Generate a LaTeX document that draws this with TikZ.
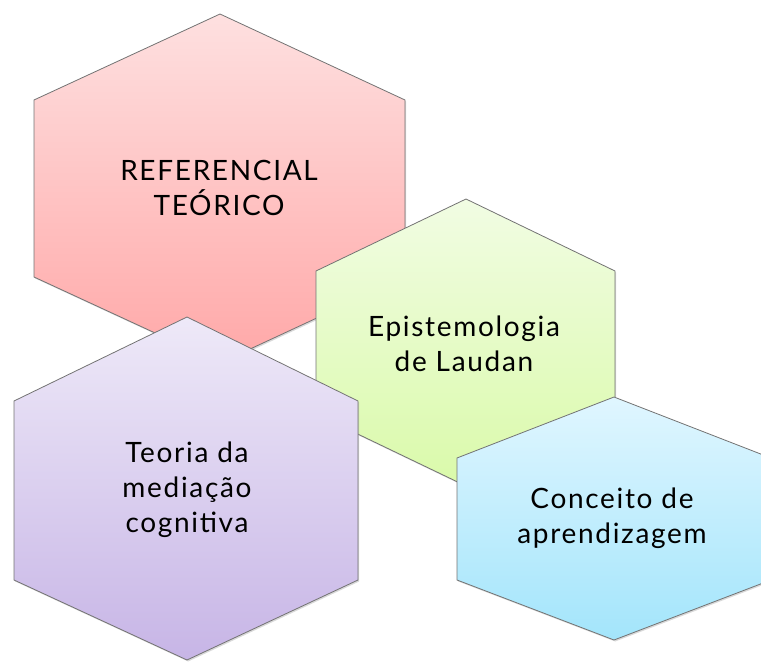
\documentclass[tikz,border=0pt]{standalone}
\usepackage{fontspec}
\setmainfont{Lato}[LetterSpace=6.0]
\usepackage{tikz}
\usetikzlibrary{shadows}
\usetikzlibrary{positioning}

\definecolor{reftop}{RGB}{254,224,224}
\definecolor{refbot}{RGB}{255,168,168}
\definecolor{epitop}{RGB}{241,252,227}
\definecolor{epibot}{RGB}{218,250,170}
\definecolor{medtop}{RGB}{238,233,248}
\definecolor{medbot}{RGB}{199,181,230}
\definecolor{aprtop}{RGB}{224,246,255}
\definecolor{aprbot}{RGB}{163,229,251}

\begin{document}
\begin{tikzpicture}
    [
    x=1pt,y=-1pt,
    hex/.style={draw=black!55,line width=0.8pt,
      drop shadow={opacity=0.3,shadow xshift=1.2pt,shadow yshift=-1.5pt}},
    refhex/.style={hex,top color=reftop,bottom color=refbot},
    epihex/.style={hex,top color=epitop,bottom color=epibot},
    medhex/.style={hex,top color=medtop,bottom color=medbot},
    aprhex/.style={hex,top color=aprtop,bottom color=aprbot},
    hextext/.style={align=center,font=\fontsize{28}{35}\selectfont}
    ]
    \clip (0,0) rectangle (761,666);
    % hexagons, back to front
    \draw [refhex] (220,14) -- (405,100) -- (405,277) -- (220,363) -- (34,277) -- (34,100) -- cycle;
    \draw [epihex] (466,199) -- (615,271) -- (615,414) -- (466,486) -- (316,414) -- (316,271) -- cycle;
    \draw [medhex] (187,317) -- (358,401) -- (358,580) -- (187,660) -- (14,580) -- (14,401) -- cycle;
    \draw [aprhex] (614,397) -- (771,458) -- (771,580) -- (614,640) -- (457,580) -- (457,458) -- cycle;
    % texts
    \node (ref) at (219,188) [hextext] {REFERENCIAL\\TEÓRICO};
    \node (epi) at (464,344) [hextext] {Epistemologia\\de Laudan};
    \node (med) at (187,490) [hextext] {Teoria da\\mediação\\cognitiva};
    \node (apr) at (612,518) [hextext] {Conceito de\\aprendizagem};
\end{tikzpicture}
\end{document}
